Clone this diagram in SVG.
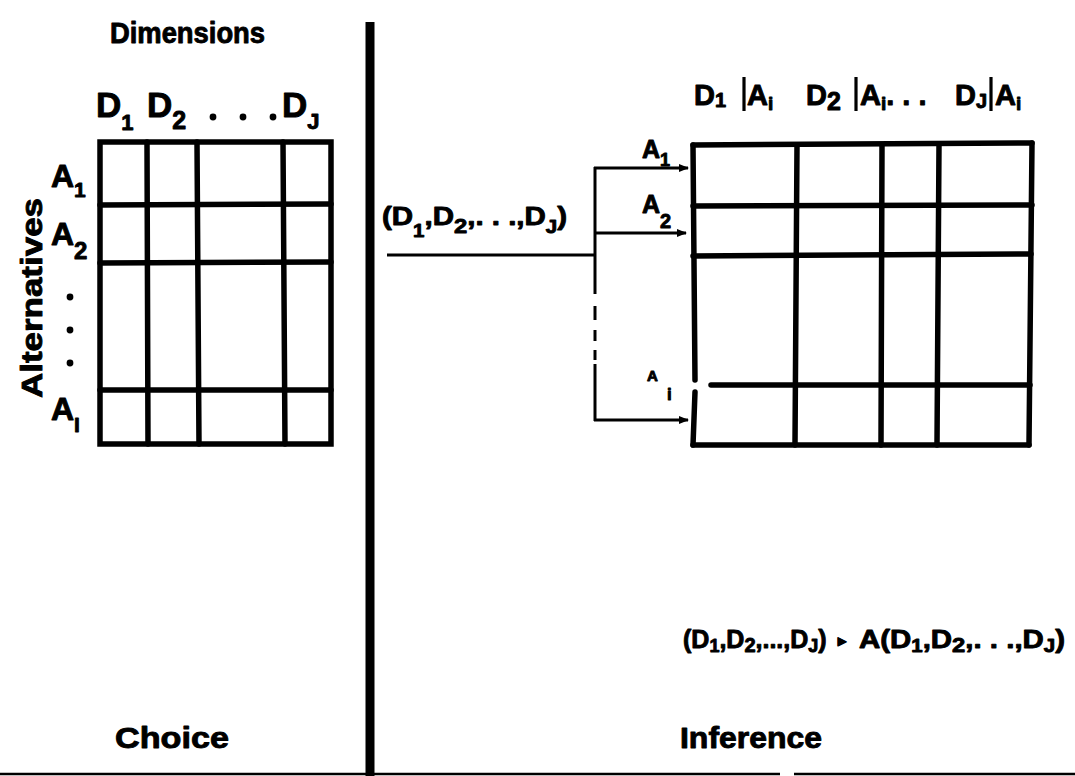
<svg xmlns="http://www.w3.org/2000/svg" width="1075" height="776" viewBox="0 0 1075 776">
<style>
text{font-family:"Liberation Sans",Arial,sans-serif;font-weight:bold;fill:#000;stroke:#000;stroke-width:0.9;stroke-linejoin:round}
.grid{fill:none;stroke:#000;stroke-width:5.5;stroke-linecap:round}
.conn{fill:none;stroke:#000;stroke-width:3}
.bar{stroke:#000;stroke-width:3.2}
</style>
<defs>
<marker id="ah" markerWidth="10" markerHeight="8" refX="9" refY="4" orient="auto" markerUnits="userSpaceOnUse">
<path d="M0,0 L10,4 L0,8 Z" fill="#000"/>
</marker>
</defs>
<rect width="1075" height="776" fill="#fff"/>

<g id="divider">
<line x1="370" y1="22" x2="370" y2="776" stroke="#000" stroke-width="9"/>
<line x1="0" y1="774" x2="780" y2="774" stroke="#000" stroke-width="2.5"/>
<line x1="794" y1="774" x2="1075" y2="774" stroke="#000" stroke-width="2.5"/>
</g>

<g id="choice-matrix">
<rect class="grid" x="100" y="142" width="231" height="302"/>
<line class="grid" x1="147" y1="142" x2="148" y2="444"/>
<line class="grid" x1="197" y1="142" x2="199" y2="444"/>
<line class="grid" x1="283" y1="142" x2="285" y2="444"/>
<line class="grid" x1="100" y1="205" x2="331" y2="204"/>
<line class="grid" x1="100" y1="263" x2="331" y2="262"/>
<line class="grid" x1="100" y1="390" x2="331" y2="390"/>
</g>

<g id="choice-labels">
<text x="110" y="43" font-size="29" textLength="155" lengthAdjust="spacingAndGlyphs">Dimensions</text>
<text x="96" y="117" font-size="35">D<tspan font-size="22" dy="13">1</tspan></text>
<text x="147" y="117" font-size="35">D<tspan font-size="25" dy="12">2</tspan></text>
<circle cx="213" cy="117" r="3.4"/>
<circle cx="243" cy="117" r="3.4"/>
<circle cx="273" cy="117" r="3.4"/>
<text x="282" y="117" font-size="35">D<tspan font-size="22" dy="12">J</tspan></text>
<text x="51" y="187" font-size="32">A<tspan font-size="21" dy="10">1</tspan></text>
<text x="51" y="245" font-size="32">A<tspan font-size="24" dy="14">2</tspan></text>
<circle cx="70" cy="297" r="3.4"/>
<circle cx="70" cy="330" r="3.4"/>
<circle cx="70" cy="363" r="3.4"/>
<text x="51" y="420" font-size="32">A<tspan font-size="21" dy="12">I</tspan></text>
<text transform="translate(42,298) rotate(-90)" text-anchor="middle" font-size="30" textLength="200" lengthAdjust="spacingAndGlyphs">Alternatives</text>
<text x="115" y="748" font-size="30" textLength="114" lengthAdjust="spacingAndGlyphs">Choice</text>
</g>

<g id="connectors">
<line class="conn" x1="387" y1="255" x2="595" y2="255"/>
<line class="conn" x1="595" y1="167" x2="595" y2="294"/>
<line class="conn" x1="595" y1="306" x2="595" y2="320"/>
<line class="conn" x1="595" y1="330" x2="595" y2="341"/>
<line class="conn" x1="595" y1="350" x2="595" y2="360"/>
<line class="conn" x1="595" y1="364" x2="595" y2="421"/>
<line class="conn" x1="594" y1="168" x2="688" y2="168" marker-end="url(#ah)"/>
<line class="conn" x1="594" y1="233" x2="686" y2="233" marker-end="url(#ah)"/>
<line class="conn" x1="594" y1="420" x2="688" y2="420" marker-end="url(#ah)"/>
</g>

<g id="connector-labels">
<text x="382" y="225" font-size="26" textLength="185" lengthAdjust="spacingAndGlyphs">(D<tspan font-size="18" dy="12">1</tspan><tspan dy="-12">,D</tspan><tspan font-size="21" dy="8">2</tspan><tspan dy="-8">,. . .,D</tspan><tspan font-size="18" dy="8">J</tspan><tspan dy="-8">)</tspan></text>
<text x="642" y="158" font-size="25">A<tspan font-size="18" dy="8">1</tspan></text>
<text x="642" y="213" font-size="25">A<tspan font-size="20" dy="15">2</tspan></text>
<text x="647" y="381" font-size="15">A</text>
<text x="667" y="400" font-size="17">i</text>
</g>

<g id="inference-matrix">
<line class="grid" x1="693" y1="145" x2="1032" y2="143"/>
<line class="grid" x1="1032" y1="143" x2="1029" y2="445"/>
<line class="grid" x1="1029" y1="445" x2="693" y2="445"/>
<line class="grid" x1="693" y1="445" x2="695" y2="392"/>
<line class="grid" x1="695" y1="380" x2="693" y2="145"/>
<line class="grid" x1="797" y1="145" x2="795" y2="445"/>
<line class="grid" x1="882" y1="145" x2="881" y2="445"/>
<line class="grid" x1="939" y1="145" x2="937" y2="445"/>
<line class="grid" x1="693" y1="206" x2="1032" y2="205"/>
<line class="grid" x1="693" y1="256" x2="1031" y2="254"/>
<line class="grid" x1="711" y1="385" x2="1030" y2="385"/>
</g>

<g id="inference-labels">
<text x="694" y="105" font-size="29">D<tspan font-size="20" dy="2">1</tspan></text>
<line class="bar" x1="744" y1="77" x2="744" y2="111"/>
<text x="747" y="105" font-size="29">A<tspan font-size="19" dy="5">i</tspan></text>
<text x="806" y="105" font-size="29">D<tspan font-size="25" dy="5">2</tspan></text>
<line class="bar" x1="856" y1="77" x2="856" y2="111"/>
<text x="860" y="105" font-size="29">A<tspan font-size="19" dy="5">i</tspan><tspan dy="-5">. . .</tspan></text>
<text x="955" y="105" font-size="29">D<tspan font-size="20" dy="3">J</tspan></text>
<line class="bar" x1="991" y1="77" x2="991" y2="111"/>
<text x="995" y="105" font-size="29">A<tspan font-size="19" dy="5">i</tspan></text>
<text x="683" y="648" font-size="25">(D<tspan font-size="18" dy="4">1</tspan><tspan dy="-4">,D</tspan><tspan font-size="20" dy="4">2</tspan><tspan dy="-4">,...,D</tspan><tspan font-size="18" dy="4">J</tspan><tspan dy="-4">)</tspan></text>
<text x="838" y="646" font-size="16" font-family="DejaVu Sans, sans-serif">▸</text>
<text x="859" y="648" font-size="26" textLength="206" lengthAdjust="spacingAndGlyphs">A(D<tspan font-size="18" dy="4">1</tspan><tspan dy="-4">,D</tspan><tspan font-size="21" dy="4">2</tspan><tspan dy="-4">,. . .,D</tspan><tspan font-size="18" dy="4">J</tspan><tspan dy="-4">)</tspan></text>
<text x="680" y="748" font-size="30" textLength="142" lengthAdjust="spacingAndGlyphs">Inference</text>
</g>
</svg>
